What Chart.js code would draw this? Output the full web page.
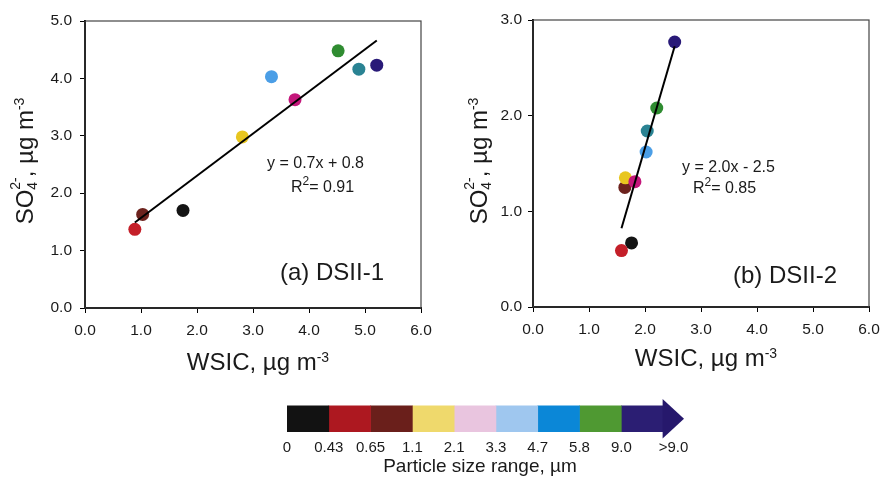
<!DOCTYPE html>
<html>
<head>
<meta charset="utf-8">
<script src="https://cdn.jsdelivr.net/npm/chart.js@4.4.1/dist/chart.umd.min.js"></script>
<style>
  body { margin: 0; background: #fff; width: 881px; height: 477px; position: relative; overflow: hidden; }
  canvas { position: absolute; }
</style>
</head>
<body>
<canvas id="panelA" width="440" height="380" style="left:0;top:0"></canvas>
<canvas id="panelB" width="460" height="380" style="left:440px;top:0"></canvas>
<canvas id="sizeBar" width="470" height="92" style="left:250px;top:385px"></canvas>
<script>
// size bins (µm), one colour per bin
const sizeBins = ['0-0.43', '0.43-0.65', '0.65-1.1', '1.1-2.1', '2.1-3.3', '3.3-4.7', '4.7-5.8', '5.8-9.0', '>9.0'];
const binTickLabels = ['0', '0.43', '0.65', '1.1', '2.1', '3.3', '4.7', '5.8', '9.0', '>9.0'];
const pointColors = ['#141414', '#c41f29', '#6c221d', '#e8c61f', '#c4177b', '#4b9ee6', '#2a8393', '#2f8c31', '#291a78'];
const barColors = ['#121212', '#ad1820', '#6a1f1b', '#efd96c', '#e9c5df', '#9fc7ef', '#0b87d7', '#4f9932', '#2b1e73'];

// DSII-1
const wsicA = [1.75, 0.89, 1.03, 2.81, 3.75, 3.33, 4.89, 4.52, 5.21];
const so4A = [1.70, 1.37, 1.63, 2.98, 3.63, 4.03, 4.16, 4.48, 4.23];
// DSII-2
const wsicB = [1.76, 1.58, 1.64, 1.65, 1.82, 2.02, 2.04, 2.21, 2.53];
const so4B = [0.67, 0.59, 1.25, 1.35, 1.31, 1.62, 1.84, 2.08, 2.77];

const FONT = '"Liberation Sans", Arial, sans-serif';
const INK = '#1a1a1a';

// least-squares line over the x range of the points
function fitLine(xs, ys) {
  const n = xs.length;
  const mx = xs.reduce((a, b) => a + b, 0) / n;
  const my = ys.reduce((a, b) => a + b, 0) / n;
  let sxy = 0, sxx = 0;
  xs.forEach((x, i) => { sxy += (x - mx) * (ys[i] - my); sxx += (x - mx) * (x - mx); });
  const k = sxy / sxx, b = my - k * mx;
  const x0 = Math.min(...xs), x1 = Math.max(...xs);
  return [{ x: x0, y: k * x0 + b }, { x: x1, y: k * x1 + b }];
}

// text with super/subscripts; a part with stack:true sits under the previous one
function drawRich(ctx, item) {
  const { parts, x, y, rot = 0, align = 'left' } = item;
  ctx.save();
  ctx.translate(x, y);
  ctx.rotate(rot);
  ctx.fillStyle = INK;
  ctx.textBaseline = 'alphabetic';
  ctx.textAlign = 'left';
  const layout = [];
  let cx = 0, lastStart = 0, lastW = 0;
  parts.forEach(p => {
    ctx.font = p.size + 'px ' + FONT;
    const w = ctx.measureText(p.t).width;
    if (p.stack) {
      layout.push({ p, x: lastStart });
      lastW = Math.max(lastW, w);
      cx = lastStart + lastW;
    } else {
      layout.push({ p, x: cx });
      lastStart = cx; lastW = w; cx += w;
    }
  });
  const off = align === 'center' ? -cx / 2 : 0;
  layout.forEach(({ p, x: px }) => {
    ctx.font = p.size + 'px ' + FONT;
    ctx.fillText(p.t, off + px, -(p.dy || 0));
  });
  ctx.restore();
}

const richText = {
  id: 'richText',
  afterDraw(chart, args, opts) {
    (opts.items || []).forEach(it => drawRich(chart.ctx, it));
  }
};

// box round the plot area
const frame = {
  id: 'frame',
  beforeDatasetsDraw(chart) {
    const { ctx, chartArea: a } = chart;
    ctx.save();
    ctx.strokeStyle = '#444';
    ctx.lineWidth = 1.2;
    ctx.strokeRect(a.left, a.top, a.right - a.left, a.bottom - a.top);
    ctx.restore();
  }
};

const so4Title = [
  { t: 'SO', size: 24 },
  { t: '2-', size: 14, dy: 13 },
  { t: '4', size: 14, dy: -3.5, stack: true },
  { t: ', \u00b5g m', size: 24 },
  { t: '-3', size: 14, dy: 9 }
];
const wsicTitle = [
  { t: 'WSIC, \u00b5g m', size: 24 },
  { t: '-3', size: 14, dy: 8 }
];

function panel(id, xs, ys, yMax, yWidth, xHeight, pad, tickPad, items) {
  const points = xs.map((x, i) => ({ x, y: ys[i] }));
  new Chart(document.getElementById(id), {
    type: 'scatter',
    data: {
      datasets: [
        {
          type: 'line',
          data: fitLine(xs, ys),
          borderColor: '#000',
          borderWidth: 2,
          pointRadius: 0,
          order: 0
        },
        {
          data: points,
          pointRadius: 6.5,
          pointHoverRadius: 6.5,
          pointBorderWidth: 0,
          pointBackgroundColor: pointColors,
          order: 1
        }
      ]
    },
    options: {
      responsive: false,
      animation: false,
      events: [],
      layout: { padding: pad },
      plugins: {
        legend: { display: false },
        tooltip: { enabled: false },
        richText: { items }
      },
      scales: {
        x: {
          type: 'linear',
          min: 0, max: 6,
          afterFit: s => { s.height = xHeight; },
          border: { display: true, color: '#000', width: 2 },
          grid: { drawOnChartArea: false, drawTicks: true, tickLength: 5, color: '#000' },
          ticks: {
            stepSize: 1, padding: 8, color: INK, maxRotation: 0,
            font: { family: FONT, size: 15.5 },
            callback: v => v.toFixed(1)
          }
        },
        y: {
          min: 0, max: yMax,
          afterFit: s => { s.width = yWidth; },
          border: { display: true, color: '#000', width: 2 },
          grid: { drawOnChartArea: false, drawTicks: true, tickLength: 5, color: '#000' },
          ticks: {
            stepSize: 1, padding: tickPad, color: INK,
            font: { family: FONT, size: 15.5 },
            callback: v => v.toFixed(1)
          }
        }
      }
    },
    plugins: [frame, richText]
  });
}

panel('panelA', wsicA, so4A, 5, 85, 72, { top: 21, right: 19, bottom: 0, left: 0 }, 8, [
  { parts: so4Title, x: 33, y: 161, rot: -Math.PI / 2, align: 'center' },
  { parts: wsicTitle, x: 258, y: 370, align: 'center' },
  { parts: [{ t: 'y = 0.7x + 0.8', size: 16 }], x: 267, y: 168 },
  { parts: [{ t: 'R', size: 16 }, { t: '2', size: 12, dy: 7 }, { t: '= 0.91', size: 16 }], x: 291, y: 192 },
  { parts: [{ t: '(a) DSII-1', size: 24 }], x: 280, y: 280 }
]);

panel('panelB', wsicB, so4B, 3, 93, 73, { top: 20, right: 31, bottom: 0, left: 0 }, 6, [
  { parts: so4Title, x: 47, y: 161, rot: -Math.PI / 2, align: 'center' },
  { parts: wsicTitle, x: 266, y: 366, align: 'center' },
  { parts: [{ t: 'y = 2.0x - 2.5', size: 16 }], x: 242, y: 172 },
  { parts: [{ t: 'R', size: 16 }, { t: '2', size: 12, dy: 7 }, { t: '= 0.85', size: 16 }], x: 253, y: 193 },
  { parts: [{ t: '(b) DSII-2', size: 24 }], x: 293, y: 283 }
]);

// arrow head on the last bin of the size bar
const arrowHead = {
  id: 'arrowHead',
  afterDatasetsDraw(chart) {
    const metas = chart.getSortedVisibleDatasetMetas();
    const last = metas.find(m => m.index === sizeBins.length - 1).data[0];
    const { ctx, chartArea: a } = chart;
    ctx.save();
    ctx.fillStyle = '#26186c';
    ctx.beginPath();
    ctx.moveTo(last.x - 0.5, a.top);
    ctx.lineTo(a.right, (a.top + a.bottom) / 2);
    ctx.lineTo(last.x - 0.5, a.bottom);
    ctx.closePath();
    ctx.fill();
    ctx.restore();
  }
};

new Chart(document.getElementById('sizeBar'), {
  type: 'bar',
  data: {
    labels: [''],
    datasets: sizeBins.map((bin, i) => ({
      label: bin,
      data: [1],
      backgroundColor: barColors[i],
      borderWidth: 0,
      barThickness: 26
    }))
  },
  options: {
    indexAxis: 'y',
    responsive: false,
    animation: false,
    events: [],
    layout: { padding: { top: 14, left: 37, right: 36, bottom: 0 } },
    plugins: {
      legend: { display: false },
      tooltip: { enabled: false },
      richText: {
        items: [{ parts: [{ t: 'Particle size range, \u00b5m', size: 19 }], x: 230, y: 87, align: 'center' }]
      }
    },
    scales: {
      x: {
        stacked: true,
        min: 0, max: 9.5,
        afterFit: s => { s.height = 38.5; },
        afterBuildTicks: s => {
          s.ticks = binTickLabels.map((_, i) => ({ value: i < sizeBins.length ? i : i + 0.25 }));
        },
        border: { display: false },
        grid: { display: false, drawTicks: false },
        ticks: {
          autoSkip: false, maxRotation: 0, padding: 0, color: INK,
          font: { family: FONT, size: 15 },
          callback: (v, i) => binTickLabels[i]
        }
      },
      y: { stacked: true, display: false }
    }
  },
  plugins: [arrowHead, richText]
});
</script>
</body>
</html>
